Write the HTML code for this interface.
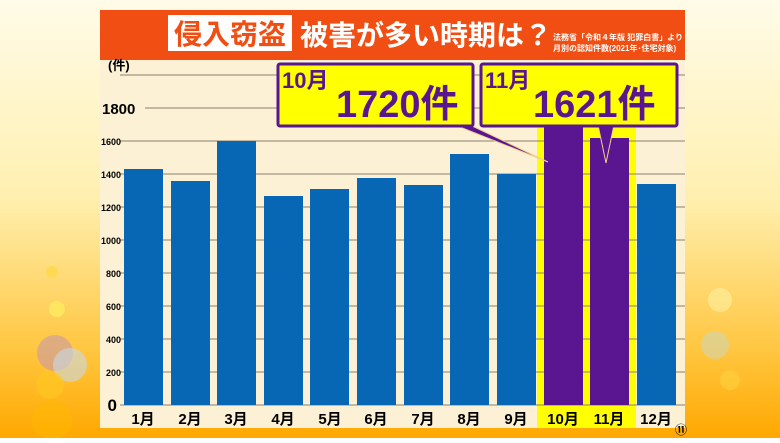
<!DOCTYPE html>
<html><head><meta charset="utf-8"><style>
body{margin:0;width:780px;height:438px;overflow:hidden;font-family:"Liberation Sans","Noto Sans CJK JP",sans-serif;}
</style></head><body>
<svg width="780" height="438" xmlns="http://www.w3.org/2000/svg" font-family="Liberation Sans, Noto Sans CJK JP, sans-serif">
<defs>
<linearGradient id="bg" x1="0" y1="0" x2="0" y2="1">
<stop offset="0" stop-color="#fffbe8"/><stop offset="0.45" stop-color="#fff0b0"/><stop offset="0.8" stop-color="#ffc640"/><stop offset="1" stop-color="#ffa800"/></linearGradient>
<linearGradient id="bgr" x1="0" y1="0" x2="1" y2="0">
<stop offset="0" stop-color="#fffbe8" stop-opacity="0"/><stop offset="1" stop-color="#fff3c0" stop-opacity="0.5"/></linearGradient>
</defs>
<rect width="780" height="438" fill="url(#bg)"/>
<circle cx="52" cy="272" r="6" fill="#ffd84a" opacity="0.8"/>
<circle cx="57" cy="309" r="8" fill="#ffe860" opacity="0.9"/>
<circle cx="55" cy="353" r="18" fill="#c89aa8" opacity="0.6"/>
<circle cx="70" cy="365" r="17" fill="#c8d8e8" opacity="0.6"/>
<circle cx="50" cy="385" r="14" fill="#ffc820" opacity="0.6"/>
<circle cx="52" cy="420" r="20" fill="#ffb800" opacity="0.5"/>
<circle cx="720" cy="300" r="12" fill="#fff0a0" opacity="0.6"/>
<circle cx="715" cy="345" r="14" fill="#c8d8c8" opacity="0.5"/>
<circle cx="730" cy="380" r="10" fill="#ffd040" opacity="0.6"/>
<rect x="100" y="10" width="585" height="418" fill="#fcf1d4"/>
<rect x="100" y="10" width="585" height="50" fill="#f04e12"/>
<rect x="168" y="15" width="124" height="36" fill="#fff"/>
<text x="230" y="44" font-size="28" font-weight="bold" fill="#f04e12" text-anchor="middle">侵入窃盗</text>
<text x="300" y="45" font-size="28" font-weight="bold" fill="#fff">被害が多い時期は？</text>
<text x="553" y="40" font-size="8" font-weight="bold" fill="#fff">法務省「令和４年版 犯罪白書」より</text>
<text x="553" y="51" font-size="8" font-weight="bold" fill="#fff">月別の認知件数(2021年･住宅対象)</text>
<rect x="537" y="110" width="99" height="318" fill="#ffff00"/>
<g stroke="#8a8070" stroke-width="1">
<line x1="120" y1="75" x2="685" y2="75"/><line x1="145" y1="108" x2="685" y2="108"/>
<line x1="120" y1="141" x2="685" y2="141"/><line x1="120" y1="174" x2="685" y2="174"/>
<line x1="120" y1="207" x2="685" y2="207"/><line x1="120" y1="240" x2="685" y2="240"/>
<line x1="120" y1="273" x2="685" y2="273"/><line x1="120" y1="306" x2="685" y2="306"/>
<line x1="120" y1="339" x2="685" y2="339"/><line x1="120" y1="372" x2="685" y2="372"/>
<line x1="120" y1="405" x2="685" y2="405"/></g>
<text x="108" y="70" font-size="13" font-weight="bold">(件)</text>
<text x="102" y="114" font-size="15" font-weight="bold">1800</text>
<g font-size="9" font-weight="bold" text-anchor="end">
<text x="121" y="145">1600</text><text x="121" y="178">1400</text><text x="121" y="211">1200</text>
<text x="121" y="244">1000</text><text x="121" y="277">800</text><text x="121" y="310">600</text>
<text x="121" y="343">400</text><text x="121" y="376">200</text></g>
<text x="117" y="411" font-size="17" font-weight="bold" text-anchor="end">0</text>
<g fill="#0767b5">
<rect x="124" y="169" width="39" height="236"/><rect x="171" y="181" width="39" height="224"/>
<rect x="217" y="141" width="39" height="264"/><rect x="264" y="196" width="39" height="209"/>
<rect x="310" y="189" width="39" height="216"/><rect x="357" y="178" width="39" height="227"/>
<rect x="404" y="185" width="39" height="220"/><rect x="450" y="154" width="39" height="251"/>
<rect x="497" y="174" width="39" height="231"/><rect x="637" y="184" width="39" height="221"/></g>
<g fill="#5a1590">
<rect x="544" y="121" width="39" height="284"/><rect x="590" y="138" width="39" height="267"/></g>
<g font-size="15" font-weight="bold" text-anchor="middle">
<text x="143" y="424">1月</text><text x="190" y="424">2月</text><text x="236" y="424">3月</text>
<text x="283" y="424">4月</text><text x="330" y="424">5月</text><text x="376" y="424">6月</text>
<text x="423" y="424">7月</text><text x="469" y="424">8月</text><text x="516" y="424">9月</text>
<text x="563" y="424">10月</text><text x="609" y="424">11月</text><text x="656" y="424">12月</text></g>
<text x="681" y="434" font-size="12" font-weight="bold" text-anchor="middle">⑪</text>
<polygon points="455,125 470,125 548,162" fill="#5a1590" stroke="#f0d090" stroke-width="1"/>
<polygon points="598,125 614,125 606,163" fill="#5a1590" stroke="#f0d090" stroke-width="1"/>
<rect x="278" y="64" width="195" height="62" fill="#ffff00" stroke="#5a1590" stroke-width="3" rx="2"/>
<rect x="481" y="64" width="196" height="62" fill="#ffff00" stroke="#5a1590" stroke-width="3" rx="2"/>
<g fill="#5a1590" font-weight="bold">
<text x="282" y="88" font-size="22">10月</text><text x="336" y="117" font-size="38">1720件</text>
<text x="485" y="88" font-size="22">11月</text><text x="533" y="117" font-size="38">1621件</text></g>
</svg>
</body></html>
